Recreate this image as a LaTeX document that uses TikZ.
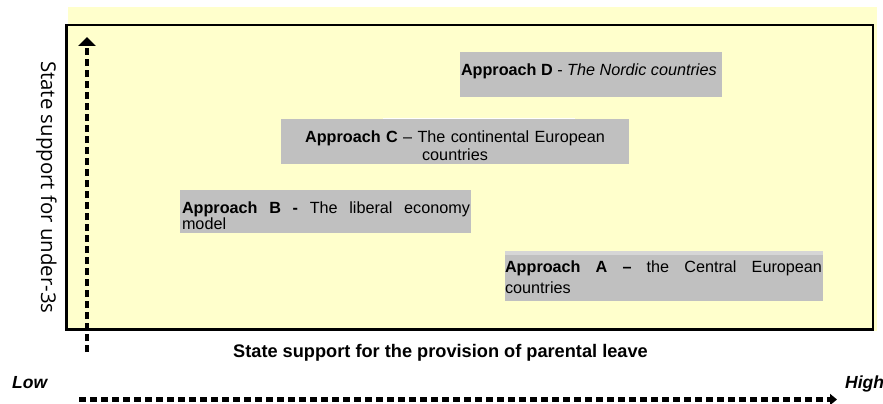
\documentclass[tikz,border=0pt]{standalone}
\usepackage{fontspec}
\setmainfont{Liberation Sans}
\newfontfamily\opensans{Open Sans}
\usetikzlibrary{arrows.meta}
\definecolor{bgyellow}{HTML}{FFFFCC}
\definecolor{boxgray}{HTML}{C0C0C0}
\definecolor{stripgray}{HTML}{D6D6D6}
\begin{document}
\begin{tikzpicture}[x=1pt,y=-1pt,
  graybox/.style={fill=boxgray, draw=none, inner sep=0pt, outer sep=0pt, anchor=north west},
  boxtext/.style={inner sep=0pt, outer sep=0pt, font=\fontsize{16.2}{18.3}\selectfont},
  axisline/.style={line width=4.5pt, dash pattern=on 7pt off 4pt},
  lowhigh/.style={inner sep=0pt, anchor=base west, font=\bfseries\itshape\fontsize{17.5}{20}\selectfont},
]
\useasboundingbox (0,0) rectangle (883,404);
% background and frame
\fill[bgyellow] (68,7) rectangle (877,331);
\draw[line width=2.7pt] (66.3,25) rectangle (873,329.7);

% grey boxes
\node[graybox, minimum width=262pt, minimum height=45pt] (boxD) at (460,52) {};
\node[graybox, minimum width=348pt, minimum height=45pt] (boxC) at (281,119) {};
\node[graybox, minimum width=291pt, minimum height=43pt] (boxB) at (180,190) {};
\node[graybox, minimum width=318pt, minimum height=50pt] (boxA) at (505,251) {};
\fill[stripgray] (boxA.north west) rectangle ([yshift=-4pt]boxA.north east);
\fill[white] (383,117.5) rectangle (575,119);

% box texts
\node[boxtext, anchor=base west] (tD) at (461,75)
  {\textbf{Approach D} - \textit{The Nordic countries}};
\node[boxtext, anchor=base, text width=346pt, align=center] (tC) at (455,142)
  {\textbf{Approach C} -- The continental European\\countries};
\node[boxtext, anchor=base west, text width=288pt, align=justify,
      font=\fontsize{16.2}{16.7}\selectfont] (tB) at (182,213)
  {\textbf{Approach B -} The liberal economy\linebreak model};
\node[boxtext, anchor=base west, text width=317pt, align=justify,
      font=\fontsize{16.2}{21}\selectfont] (tA) at (505,272)
  {\textbf{Approach A --} the Central European\linebreak countries};

% axis labels
\node[inner sep=0pt, anchor=base, font=\bfseries\fontsize{18.2}{20}\selectfont] (xlabel) at (440.5,357.5)
  {State support for the provision of parental leave};
\node[lowhigh] (low) at (12,388) {Low};
\node[lowhigh] (high) at (845,388) {High};
\node[inner sep=0pt, rotate=-90, anchor=base west, font=\opensans\fontsize{20.4}{24}\selectfont] (ylabel) at (41,61)
  {State support for under-3s};

% axes
\coordinate (vb) at (87,352);
\coordinate (vt) at (87,37);
\draw[axisline, -{Triangle[width=17pt,length=9pt]}] (vb) -- (vt);
\coordinate (hb) at (79,399.5);
\coordinate (ht) at (837,399.5);
\draw[axisline, -{Triangle[width=11pt,length=7pt]}] (hb) -- (ht);
\end{tikzpicture}
\end{document}
